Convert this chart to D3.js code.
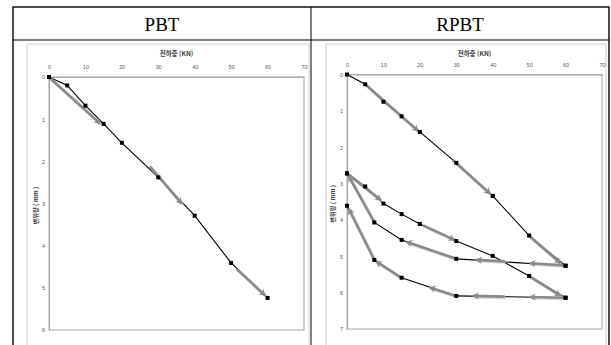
<!DOCTYPE html>
<html><head><meta charset="utf-8">
<script src="https://cdn.jsdelivr.net/npm/d3@7"></script>
<style>
html,body{margin:0;padding:0;background:#fff;}
svg{display:block;}
</style></head>
<body>
<svg id="c" width="611" height="345"></svg>
<script>
// ---------- data ----------
const headers = ["PBT", "RPBT"];
const xTitle = "전하중 (KN)";
const yTitle = "변위량 ( mm )";
const xTicks = [0, 10, 20, 30, 40, 50, 60, 70];
const pbtYTicks = [0, 1, 2, 3, 4, 5, 6];
const rpbtYTicks = [0, 1, 2, 3, 4, 5, 6, 7];

// PBT : single loading
const pbtLoad = [0, 5, 10, 15, 20, 30, 40, 50, 60];
const pbtDisp = [0, 0.2, 0.68, 1.11, 1.56, 2.38, 3.29, 4.41, 5.24];

// RPBT : repeated loading
const rpbtLoadUp = [0, 5, 10, 15, 20, 30, 40, 50, 60];
const rpbtLoadDown = [60, 30, 15, 7.5, 0];
const rpbtDispUp1 = [0, 0.27, 0.75, 1.15, 1.58, 2.43, 3.34, 4.43, 5.26];
const rpbtDispDown1 = [5.26, 5.07, 4.55, 4.07, 2.72];
const rpbtDispUp2 = [2.72, 3.08, 3.55, 3.84, 4.11, 4.58, 4.99, 5.54, 6.14];
const rpbtDispDown2 = [6.14, 6.09, 5.59, 5.1, 3.61];

// direction arrows (load, disp) -> (load, disp)
const pbtArrows = [[0.3, 0.03, 14, 1.1], [27.7, 2.12, 36.4, 3.0], [51.5, 4.55, 59.3, 5.18]];
const rpbtArrows = [
  [5, 0.27, 19.5, 1.55], [29, 2.35, 39.3, 3.28], [49.9, 4.43, 58.6, 5.19],
  [59.5, 5.25, 50.2, 5.19], [43.3, 5.14, 35.5, 5.1], [30, 5.07, 16.3, 4.6], [7.5, 4.07, 0.5, 2.8],
  [0.3, 2.74, 9.3, 3.46], [20.9, 4.15, 29.5, 4.55], [49.9, 5.54, 58.6, 6.08],
  [59.5, 6.14, 50.2, 6.12], [43.3, 6.11, 34.6, 6.09], [30, 6.09, 22.7, 5.86], [14.9, 5.59, 8, 5.14], [7.5, 5.1, 0.5, 3.7]
];

// ---------- drawing ----------
const svg = d3.select("#c");
const defs = svg.append("defs");
defs.append("marker").attr("id", "ah").attr("viewBox", "-8 -5 10 10")
  .attr("refX", 0).attr("refY", 0).attr("markerWidth", 3.2).attr("markerHeight", 3.2)
  .attr("markerUnits", "strokeWidth").attr("orient", "auto")
  .append("path").attr("d", "M1,0 L-7,-4.5 L-4.5,0 L-7,4.5 Z").attr("fill", "#8a8a8a");

// table
const T = {x0: 13, x1: 609, y0: 7, yh: 40, xm: 311};
svg.append("rect").attr("x", T.x0).attr("y", T.y0).attr("width", T.x1 - T.x0).attr("height", 360)
  .attr("fill", "none").attr("stroke", "#000").attr("stroke-width", 1.4);
svg.append("line").attr("x1", T.x0).attr("x2", T.x1).attr("y1", T.yh).attr("y2", T.yh)
  .attr("stroke", "#000").attr("stroke-width", 1);
svg.append("line").attr("x1", T.xm).attr("x2", T.xm).attr("y1", T.y0).attr("y2", 345)
  .attr("stroke", "#000").attr("stroke-width", 1);
svg.selectAll("text.hdr").data(headers).join("text").attr("class", "hdr")
  .attr("x", (d, i) => i === 0 ? (T.x0 + T.xm) / 2 : (T.xm + T.x1) / 2)
  .attr("y", 31).attr("text-anchor", "middle")
  .attr("font-family", "Liberation Serif, Times New Roman, serif").attr("font-size", 19)
  .attr("font-weight", "normal").attr("fill", "#000")
  .text(d => d);

function chart(cfg) {
  const g = svg.append("g");
  // chart frame
  g.append("rect").attr("x", cfg.fx0).attr("y", 44).attr("width", cfg.fx1 - cfg.fx0).attr("height", 320)
    .attr("fill", "#fff").attr("stroke", "#d0d0d0").attr("stroke-width", 1);
  const x = d3.scaleLinear().domain([0, 70]).range([cfg.px0, cfg.px1]);
  const y = d3.scaleLinear().domain([0, cfg.yMax]).range([cfg.py0, cfg.py1]);
  // plot border
  g.append("rect").attr("x", x(0)).attr("y", y(0)).attr("width", x(70) - x(0)).attr("height", y(cfg.yMax) - y(0))
    .attr("fill", "none").attr("stroke", "#a6a6a6").attr("stroke-width", 1);
  // axes
  const ax = g.append("g").attr("transform", `translate(0,${y(0)})`)
    .call(d3.axisTop(x).tickValues(xTicks).tickFormat(d3.format("d")).tickSize(0).tickPadding(8));
  const ay = g.append("g").attr("transform", `translate(${x(0)},0)`)
    .call(d3.axisLeft(y).tickValues(cfg.yTicks).tickFormat(d3.format("d")).tickSize(0).tickPadding(4));
  [ax, ay].forEach(a => {
    a.select(".domain").attr("stroke", "#a6a6a6");
    a.selectAll("text").attr("font-family", "Liberation Sans, Arial, sans-serif")
      .attr("font-size", 5.5).attr("fill", "#595959");
  });
  ay.selectAll("text").attr("dy", "0.35em");
  // titles
  g.append("text").attr("x", (x(0) + x(70)) / 2).attr("y", 56).attr("text-anchor", "middle")
    .attr("font-family", "Noto Sans CJK KR, sans-serif").attr("font-size", 6.5).attr("font-weight", "bold")
    .attr("fill", "#404040").text(xTitle);
  g.append("text").attr("transform", `translate(${cfg.ytx},${(y(0) + y(cfg.yMax)) / 2 + 2}) rotate(-90)`)
    .attr("text-anchor", "middle")
    .attr("font-family", "Noto Sans CJK KR, sans-serif").attr("font-size", 6.2).attr("font-weight", "bold")
    .attr("fill", "#404040").text(yTitle);
  // data lines
  const line = d3.line().x(d => x(d[0])).y(d => y(d[1]));
  cfg.series.forEach(s => {
    const pts = s.load.map((l, i) => [l, s.disp[i]]);
    g.append("path").attr("d", line(pts)).attr("fill", "none").attr("stroke", "#000").attr("stroke-width", 1.1);
  });
  // arrows
  cfg.arrows.forEach(a => {
    g.append("line").attr("x1", x(a[0]) + 1).attr("y1", y(a[1]) + 1).attr("x2", x(a[2]) + 1).attr("y2", y(a[3]) + 1)
      .attr("stroke", "#c8c8c8").attr("stroke-width", 3).attr("opacity", 0.7);
    g.append("line").attr("x1", x(a[0])).attr("y1", y(a[1])).attr("x2", x(a[2])).attr("y2", y(a[3]))
      .attr("stroke", "#8a8a8a").attr("stroke-width", 2.6).attr("marker-end", "url(#ah)");
  });
  // markers
  cfg.series.forEach(s => {
    const pts = s.load.map((l, i) => [l, s.disp[i]]);
    g.selectAll(null).data(pts).join("rect")
      .attr("x", d => x(d[0]) - 2).attr("y", d => y(d[1]) - 2).attr("width", 4).attr("height", 4).attr("fill", "#000");
  });
}

chart({fx0: 27, fx1: 309, px0: 49, px1: 304, py0: 77, py1: 330, yMax: 6, yTicks: pbtYTicks, ytx: 38,
  series: [{load: pbtLoad, disp: pbtDisp}], arrows: pbtArrows});
chart({fx0: 326, fx1: 606, px0: 347, px1: 602, py0: 74.5, py1: 329, yMax: 7, yTicks: rpbtYTicks, ytx: 334.5,
  series: [{load: rpbtLoadUp, disp: rpbtDispUp1}, {load: rpbtLoadDown, disp: rpbtDispDown1},
           {load: rpbtLoadUp, disp: rpbtDispUp2}, {load: rpbtLoadDown, disp: rpbtDispDown2}],
  arrows: rpbtArrows});
</script>
</body></html>
